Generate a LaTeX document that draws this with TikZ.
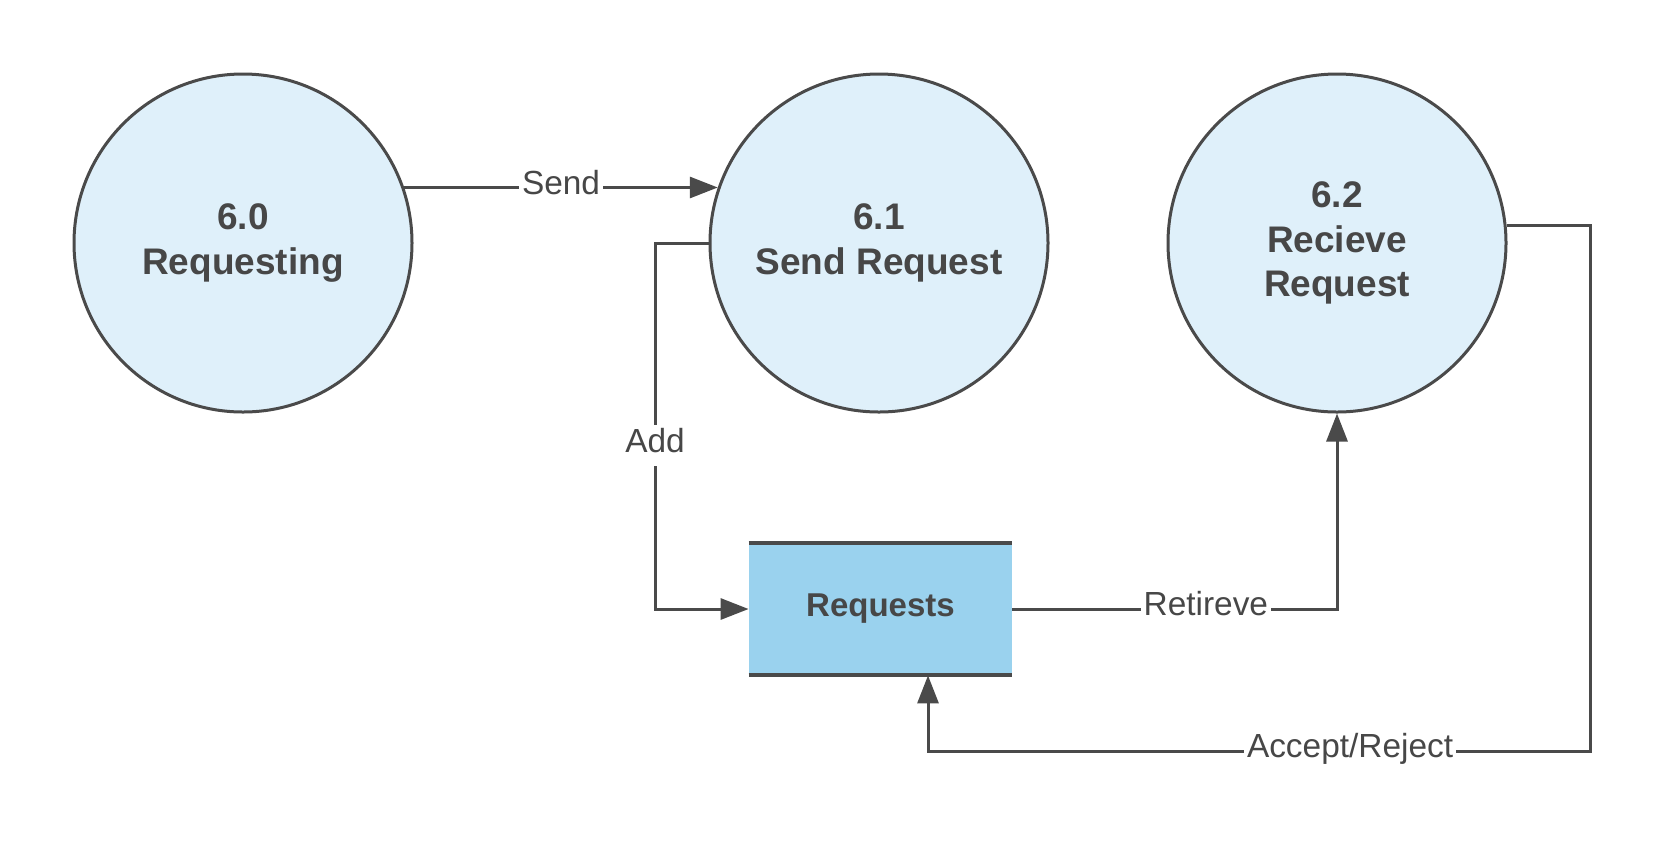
\documentclass[tikz,border=0pt]{standalone}
\usepackage{fontspec}
\setmainfont{Liberation Sans}
\usetikzlibrary{arrows.meta}
\definecolor{linegray}{HTML}{4A4A4A}
\definecolor{textgray}{HTML}{474747}
\definecolor{procblue}{HTML}{DFF0FA}
\definecolor{storeblue}{HTML}{9AD2EE}

\tikzset{
  proc/.style={circle, draw=linegray, line width=1.5pt, fill=procblue,
    minimum size=169pt, inner sep=0pt, align=center, text=textgray,
    font=\bfseries\fontsize{18.5}{22.4}\selectfont},
  store/.style={rectangle, fill=storeblue, minimum width=131.5pt,
    minimum height=66pt, inner sep=0pt, text=textgray,
    font=\bfseries\fontsize{16.5}{20}\selectfont},
  flow/.style={draw=linegray, line width=1.5pt, ->},
  lbl/.style={fill=white, inner sep=1.5pt, text=textgray,
    text height=12pt, text depth=5.4pt,
    font=\fontsize{16.7}{20}\selectfont}
}

\begin{document}
\begin{tikzpicture}[x=0.5pt, y=-0.5pt, >={Triangle[length=14pt,width=10.5pt]}]
	\useasboundingbox (0,0) rectangle (1669,848);

	% processes
	\node[proc] (c60) at (243,243) {6.0\\Requesting};
	\node[proc] (c61) at (879,243) {6.1\\Send Request};
	\node[proc] (c62) at (1337,243) {6.2\\Recieve\\Request};

	% data store
	\node[store] (store) at (880.5,609) {Requests};
	\draw[linegray, line width=2pt] (store.north west) -- (store.north east);
	\draw[linegray, line width=2pt] (store.south west) -- (store.south east);

	% bends
	\coordinate (addbend) at (655,609);
	\coordinate (arright) at (1590,751);
	\coordinate (arleft) at (928,751);

	% flows
	\draw[flow] (c60.19) -- node[lbl] {Send} (c61.161);
	\draw[flow] (c61.west) -| node[lbl, pos=0.777] {Add} (addbend) -- (store.west);
	\draw[flow] (store.east) -| node[lbl, pos=0.298] {Retireve} (c62.south);
	\draw[flow] (c62.6.5) -| (arright) -- node[lbl, pos=0.3625] {Accept/Reject} (arleft) -- (arleft |- store.south);

\end{tikzpicture}
\end{document}
